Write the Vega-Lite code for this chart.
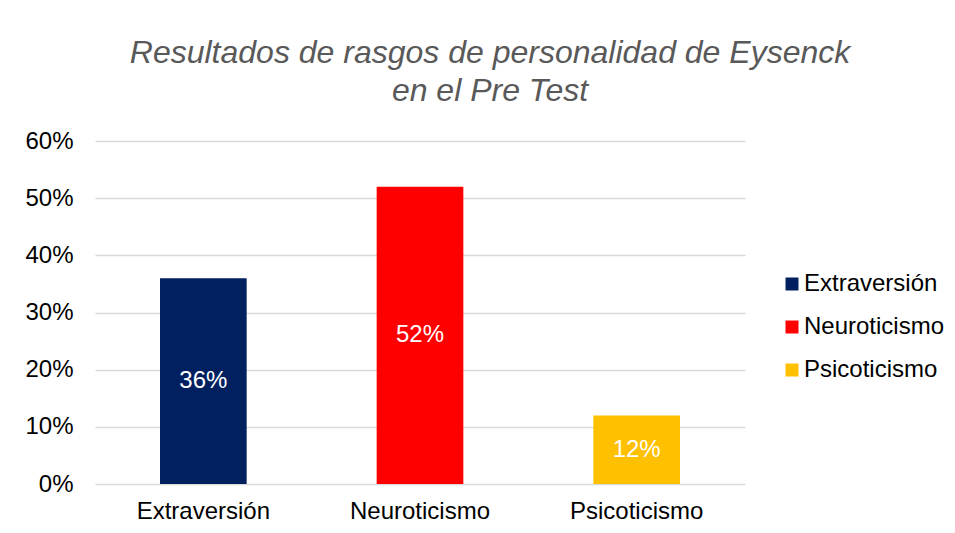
{
  "$schema": "https://vega.github.io/schema/vega-lite/v6.json",
  "autosize": {"type": "none"},
  "width": 650,
  "height": 343,
  "padding": {"left": 95, "top": 141, "right": 210, "bottom": 49},
  "background": "white",
  "config": {"view": {"stroke": null}},
  "title": {
    "text": ["Resultados de rasgos de personalidad de Eysenck", "en el Pre Test"],
    "font": "Liberation Sans",
    "fontSize": 32,
    "fontStyle": "italic",
    "fontWeight": "normal",
    "color": "#595959",
    "anchor": "middle",
    "dx": 70,
    "offset": 21,
    "lineHeight": 38
  },
  "data": {
    "values": [
      {"rasgo": "Extraversión", "valor": 0.36},
      {"rasgo": "Neuroticismo", "valor": 0.52},
      {"rasgo": "Psicoticismo", "valor": 0.12}
    ]
  },
  "encoding": {
    "x": {
      "field": "rasgo", "type": "nominal", "sort": null,
      "scale": {"paddingInner": 0.6, "paddingOuter": 0.3},
      "axis": {"title": null, "labelAngle": 0, "ticks": false, "domain": false, "labelPadding": 15, "labelFontSize": 24, "labelFont": "Liberation Sans", "labelColor": "#000000"}
    }
  },
  "layer": [
    {
      "mark": {"type": "bar"},
      "encoding": {
        "y": {
          "field": "valor", "type": "quantitative",
          "scale": {"domain": [0, 0.6]},
          "axis": {"title": null, "format": ".0%", "values": [0, 0.1, 0.2, 0.3, 0.4, 0.5, 0.6], "labelOverlap": false, "domain": false, "ticks": false, "labelPadding": 22, "labelFontSize": 24, "labelFont": "Liberation Sans", "labelColor": "#000000", "gridColor": "#d9d9d9", "gridWidth": 1.5}
        },
        "color": {
          "field": "rasgo", "type": "nominal", "sort": null,
          "scale": {"domain": ["Extraversión", "Neuroticismo", "Psicoticismo"], "range": ["#002060", "#FF0000", "#FFC000"]},
          "legend": {"title": null, "orient": "none", "legendX": 685, "legendY": 131, "symbolType": "square", "symbolSize": 169, "symbolStrokeWidth": 0, "labelFontSize": 24, "labelFont": "Liberation Sans", "labelColor": "#000000", "rowPadding": 19, "labelOffset": 0}
        }
      }
    },
    {
      "mark": {"type": "text", "color": "white", "fontSize": 24, "font": "Liberation Sans", "baseline": "middle"},
      "transform": [{"calculate": "datum.valor / 2", "as": "mitad"}],
      "encoding": {
        "y": {
          "field": "mitad", "type": "quantitative",
          "axis": {"title": null, "format": ".0%", "values": [0, 0.1, 0.2, 0.3, 0.4, 0.5, 0.6], "labelOverlap": false, "domain": false, "ticks": false, "labelPadding": 22, "labelFontSize": 24, "labelFont": "Liberation Sans", "labelColor": "#000000", "gridColor": "#d9d9d9", "gridWidth": 1.5}
        },
        "text": {"field": "valor", "type": "quantitative", "format": ".0%"}
      }
    }
  ]
}
